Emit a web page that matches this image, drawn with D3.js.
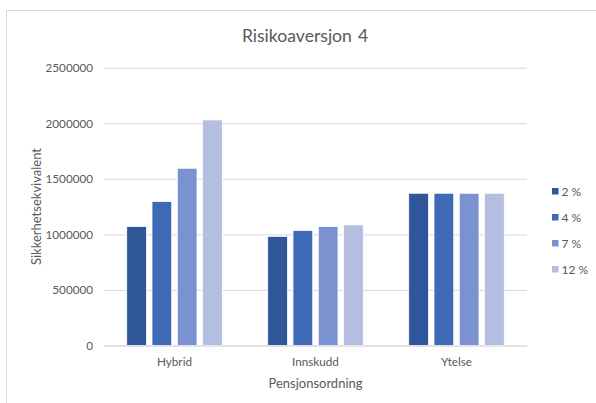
<!DOCTYPE html>
<html>
<head>
<meta charset="utf-8">
<script src="https://cdn.jsdelivr.net/npm/d3@7"></script>
<style>
  html, body { margin: 0; padding: 0; background: #ffffff; }
  svg { display: block; font-family: Lato, "Open Sans", sans-serif; }
</style>
</head>
<body>
<svg id="chart" width="596" height="403"></svg>
<script>
// Pension schemes on the x axis
const categories = ["Hybrid", "Innskudd", "Ytelse"];
// Interest-rate scenarios (series)
const seriesNames = ["2 %", "4 %", "7 %", "12 %"];
// Certainty equivalents per series, in category order
const values2 = [1070000, 982000, 1370000];
const values4 = [1295000, 1035000, 1370000];
const values7 = [1595000, 1070000, 1370000];
const values12 = [2030000, 1085000, 1370000];
const seriesValues = [values2, values4, values7, values12];
const yTicks = [0, 500000, 1000000, 1500000, 2000000, 2500000];
const colors = ["#30569A", "#3E69B6", "#7A93D0", "#B3BEE0"];

const svg = d3.select("#chart");
const W = 596, H = 403;
const margin = { left: 104, right: 527, top: 67.7, bottom: 345.5 };

// Chart area frame
svg.append("rect")
  .attr("x", 6.5).attr("y", 10.5)
  .attr("width", W + 20).attr("height", H + 20)
  .attr("fill", "#fff").attr("stroke", "#D9D9D9").attr("stroke-width", 1);

const x0 = d3.scaleBand().domain(categories).range([margin.left, margin.right]).paddingInner(0).paddingOuter(0);
const x1 = d3.scaleBand().domain(seriesNames).range([0, x0.bandwidth()]).paddingInner(0.22).paddingOuter(0.9);
const y = d3.scaleLinear().domain([0, 2500000]).range([margin.bottom, margin.top]);

// Gridlines and value axis labels
const yAxis = d3.axisLeft(y).tickValues(yTicks).tickFormat(d3.format("d"))
  .tickSize(-(margin.right - margin.left)).tickPadding(11);
const gy = svg.append("g").attr("transform", `translate(${margin.left},0)`).call(yAxis);
gy.select(".domain").remove();
gy.selectAll(".tick line").attr("stroke", "#D9D9D9").attr("stroke-width", 1);
gy.selectAll(".tick text").attr("fill", "#595959").attr("font-size", 11.7)
  .attr("font-family", "Lato, sans-serif");

// Bars
const groups = svg.append("g").selectAll("g")
  .data(categories)
  .join("g")
  .attr("transform", d => `translate(${x0(d)},0)`);

groups.selectAll("rect")
  .data((c, i) => seriesNames.map((s, j) => ({ s, j, v: seriesValues[j][i] })))
  .join("rect")
  .attr("x", d => x1(d.s))
  .attr("width", x1.bandwidth())
  .attr("y", d => y(d.v))
  .attr("height", d => y(0) - y(d.v))
  .attr("fill", d => colors[d.j])
  .attr("stroke", "#ffffff")
  .attr("stroke-width", 0.75);

// Category axis
const xAxis = d3.axisBottom(x0).tickSize(0).tickPadding(12);
const gx = svg.append("g").attr("transform", `translate(0,${margin.bottom})`).call(xAxis);
gx.select(".domain").attr("stroke", "#D9D9D9");
gx.selectAll(".tick text").attr("fill", "#595959").attr("font-size", 11.7)
  .attr("font-family", "Lato, sans-serif");

// Title
svg.append("text")
  .attr("x", 305).attr("y", 42)
  .attr("text-anchor", "middle")
  .attr("fill", "#595959").attr("font-size", 17.6)
  .style("word-spacing", "1.5px")
  .text("Risikoaversjon 4");

// Axis titles
svg.append("text")
  .attr("x", (margin.left + margin.right) / 2).attr("y", 388)
  .attr("text-anchor", "middle")
  .attr("fill", "#595959").attr("font-size", 13)
  .text("Pensjonsordning");

svg.append("text")
  .attr("transform", "translate(41,206.5) rotate(-90)")
  .attr("text-anchor", "middle")
  .attr("fill", "#595959").attr("font-size", 13)
  .text("Sikkerhetsekvivalent");

// Legend
const legend = svg.append("g").selectAll("g")
  .data(seriesNames)
  .join("g")
  .attr("transform", (d, i) => `translate(552,${188 + i * 26})`);
legend.append("rect")
  .attr("width", 6.5).attr("height", 6.5)
  .attr("fill", (d, i) => colors[i]);
legend.append("text")
  .attr("x", 9.5).attr("y", 3.25).attr("dy", "0.36em")
  .attr("fill", "#595959").attr("font-size", 12)
  .text(d => d);
</script>
</body>
</html>
